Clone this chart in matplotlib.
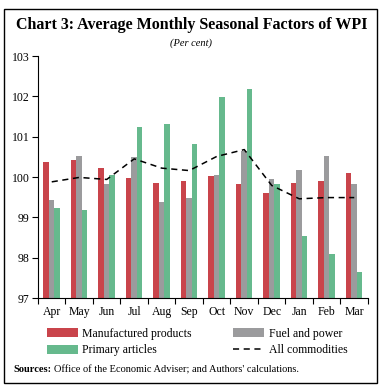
import numpy as np
import matplotlib.pyplot as plt
from matplotlib.patches import Rectangle

months = ["Apr", "May", "Jun", "Jul", "Aug", "Sep", "Oct", "Nov", "Dec", "Jan", "Feb", "Mar"]
manufactured = [100.38, 100.43, 100.22, 99.97, 99.86, 99.89, 100.03, 99.82, 99.60, 99.86, 99.90, 100.11]
fuel = [99.42, 100.51, 99.83, 100.49, 99.38, 99.49, 100.06, 100.65, 99.96, 100.17, 100.52, 99.83]
primary = [99.22, 99.17, 100.05, 101.23, 101.31, 100.83, 101.98, 102.18, 99.83, 98.54, 98.10, 97.64]
all_comm = [99.88, 99.99, 99.94, 100.45, 100.22, 100.16, 100.51, 100.68, 99.79, 99.46, 99.49, 99.49]

RED = "#C9444B"; GRAY = "#9B9B9D"; GREEN = "#66B98D"
plt.rcParams['font.family'] = ['Liberation Serif', 'DejaVu Serif']

fig = plt.figure(figsize=(3.83, 3.89), dpi=100)
ax = fig.add_axes([0.0992, 0.2339, 0.8616, 0.6221])

x = np.arange(len(months))
w = 0.2
b_man = ax.bar(x - w, manufactured, w, color=RED)
b_fuel = ax.bar(x, fuel, w, color=GRAY)
b_prim = ax.bar(x + w, primary, w, color=GREEN)
ln, = ax.plot(x, all_comm, color="black", ls=(0, (4, 3)), lw=1.1)

ax.set_ylim(97, 103)
ax.set_xlim(-0.5, len(months) - 0.5)
ax.set_yticks(range(97, 104))
ax.set_xticks(x)
ax.set_xticklabels(months)
ax.set_xticks(np.arange(-0.5, len(months)), minor=True)
ax.tick_params(axis='x', which='major', length=0, pad=6, labelsize=8.5)
ax.tick_params(axis='x', which='minor', length=4, width=0.8, direction='out')
ax.tick_params(axis='y', length=4, width=0.8, direction='out', labelsize=8.5, pad=2)
for s in ["top", "right"]:
    ax.spines[s].set_visible(False)
for s in ["left", "bottom"]:
    ax.spines[s].set_linewidth(0.8)

# column-major fill: col 1 = manufactured, primary; col 2 = fuel, all
fig.legend([b_man, b_prim, b_fuel, ln],
           ["Manufactured products", "Primary articles", "Fuel and power", "All commodities"],
           ncol=2, loc="upper left", bbox_to_anchor=(0.095, 0.184), frameon=False,
           fontsize=8.5, handlelength=2.6, handleheight=0.8,
           columnspacing=3.5, labelspacing=0.35, handletextpad=0.4)

fig.text(0.5, 0.937, "Chart 3: Average Monthly Seasonal Factors of WPI",
         ha="center", va="center", fontsize=11.5, fontweight="bold")
fig.text(0.5, 0.889, "(Per cent)", ha="center", va="center", fontsize=7.5,
         style="italic")
t = fig.text(0.035, 0.05, "Sources:", ha="left", va="center", fontsize=7.5,
             fontweight="bold")
fig.canvas.draw()
bb = t.get_window_extent().transformed(fig.transFigure.inverted())
fig.text(bb.x1 + 0.006, 0.05, "Office of the Economic Adviser; and Authors' calculations.",
         ha="left", va="center", fontsize=7.5)

fig.patches.append(Rectangle((4 / 383, 6 / 389), 373 / 383, 374 / 389,
                             transform=fig.transFigure, fill=False,
                             edgecolor="black", lw=1))

fig.savefig("out.png", dpi=100)
